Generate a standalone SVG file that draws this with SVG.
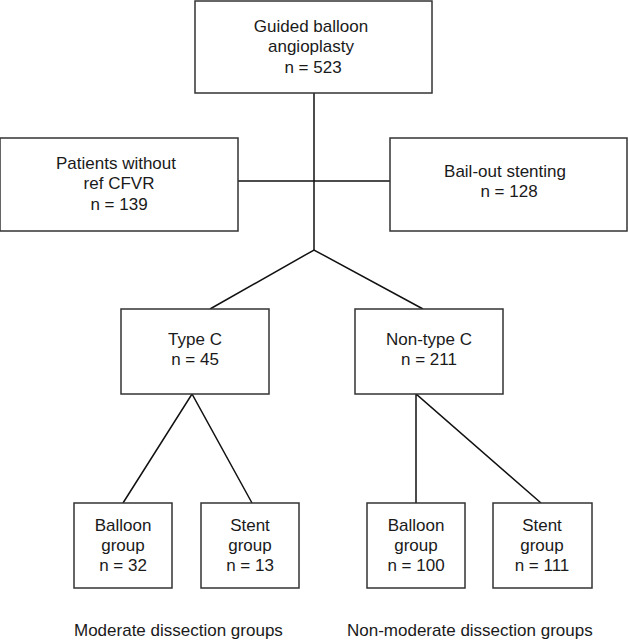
<svg xmlns="http://www.w3.org/2000/svg" width="628" height="640" viewBox="0 0 628 640">
<style>
.box{fill:#fff;stroke:#333;stroke-width:1.5}
.ln{fill:none;stroke:#111;stroke-width:1.5}
text{font-family:"Liberation Sans",Arial,Helvetica,sans-serif;font-size:17px;fill:#1a1a1a;text-anchor:middle}
.lbl{text-anchor:start}
</style>
<rect width="628" height="640" fill="#fff"/>
<g id="connectors">
<line class="ln" x1="314" y1="93" x2="314" y2="250"/>
<line class="ln" x1="238" y1="181" x2="390" y2="181"/>
<polyline class="ln" points="210,309 314,250 423,309"/>
<polyline class="ln" points="123,503 192,394 252,503"/>
<polyline class="ln" points="416,503 416,394 541,503"/>
</g>
<g id="n-guided">
<rect class="box" x="195" y="1" width="237" height="92"/>
<text x="311" y="32">Guided balloon</text>
<text x="311" y="52">angioplasty</text>
<text x="313" y="73">n = 523</text>
</g>
<g id="n-without">
<rect class="box" x="0" y="138" width="238" height="93"/>
<text x="116" y="169">Patients without</text>
<text x="119" y="189">ref CFVR</text>
<text x="119" y="210">n = 139</text>
</g>
<g id="n-bailout">
<rect class="box" x="390" y="138" width="237" height="93"/>
<text x="505" y="177">Bail-out stenting</text>
<text x="509" y="197">n = 128</text>
</g>
<g id="n-typec">
<rect class="box" x="121" y="309" width="148" height="85"/>
<text x="195" y="345">Type C</text>
<text x="195" y="365">n = 45</text>
</g>
<g id="n-nontypec">
<rect class="box" x="355" y="309" width="148" height="85"/>
<text x="429" y="345">Non-type C</text>
<text x="429" y="365">n = 211</text>
</g>
<g id="n-balloon1">
<rect class="box" x="74" y="503" width="98" height="85"/>
<text x="123" y="531">Balloon</text>
<text x="123" y="551">group</text>
<text x="123" y="571">n = 32</text>
</g>
<g id="n-stent1">
<rect class="box" x="201" y="503" width="98" height="85"/>
<text x="250" y="531">Stent</text>
<text x="250" y="551">group</text>
<text x="250" y="571">n = 13</text>
</g>
<g id="n-balloon2">
<rect class="box" x="367" y="503" width="98" height="85"/>
<text x="416" y="531">Balloon</text>
<text x="416" y="551">group</text>
<text x="416" y="571">n = 100</text>
</g>
<g id="n-stent2">
<rect class="box" x="493" y="503" width="99" height="85"/>
<text x="542" y="531">Stent</text>
<text x="542" y="551">group</text>
<text x="542" y="571">n = 111</text>
</g>
<text class="lbl" x="74" y="636">Moderate dissection groups</text>
<text class="lbl" x="347" y="636">Non-moderate dissection groups</text>
</svg>
